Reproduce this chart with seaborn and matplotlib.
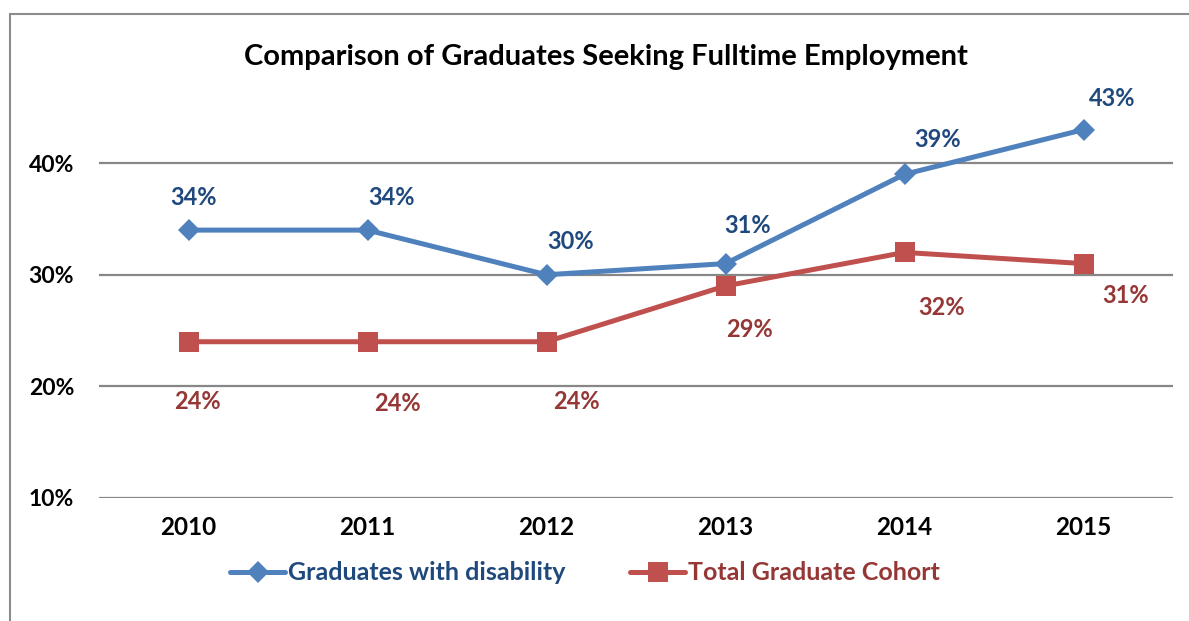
import numpy as np
import pandas as pd
import matplotlib
matplotlib.use("Agg")
import matplotlib.pyplot as plt
import seaborn as sns
from matplotlib.lines import Line2D

# chart values (percent)
years = ["2010", "2011", "2012", "2013", "2014", "2015"]
disability = [34, 34, 30, 31, 39, 43]
total_cohort = [24, 24, 24, 29, 32, 31]
series_names = ["Graduates with disability", "Total Graduate Cohort"]
y_ticks = [10, 20, 30, 40]

# label offsets in pixels (dx, dy) - hand placed like in the original
dis_offsets = [(5, 33), (24, 33), (24, 33), (22, 38), (33, 35), (29, 31)]
tot_offsets = [(9, -60), (30, -62), (30, -60), (24, -44), (37, -55), (42, -32)]

sns.set_style("white")
plt.rcParams["font.family"] = ["Lato", "DejaVu Sans"]
plt.rcParams["font.weight"] = "bold"

blue_line, blue_text = "#4F81BD", "#1F497D"
red_line, red_text = "#C0504D", "#953735"

df = pd.DataFrame({
    "pos": np.tile(np.arange(len(years)), 2),
    "value": disability + total_cohort,
    "series": [series_names[0]] * len(years) + [series_names[1]] * len(years),
})

fig = plt.figure(figsize=(11.89, 6.21), dpi=100)
ax = fig.add_axes([99 / 1189, (621 - 498) / 621, (1173 - 99) / 1189, (498 - 85) / 621])

sns.lineplot(data=df, x="pos", y="value", hue="series", style="series",
             palette=[blue_line, red_line], markers=["D", "s"], dashes=False,
             markersize=11, linewidth=3.6, markeredgewidth=0, ax=ax, legend=False)
# square marker bigger
ax.lines[1].set_markersize(14)

ax.set_xlim(-0.5, len(years) - 0.5)
ax.set_ylim(10, 47)
ax.set_yticks(y_ticks)
ax.set_yticklabels([f"{v}%" for v in y_ticks])
ax.set_xticks(range(len(years)))
ax.set_xticklabels(years)
ax.tick_params(axis="y", labelsize=16.5, pad=18, length=0)
ax.tick_params(axis="x", labelsize=17.5, pad=13, length=0)
for lab in ax.get_xticklabels() + ax.get_yticklabels():
    lab.set_fontweight("bold")
    lab.set_color("black")

ax.grid(False)
for v in y_ticks:
    ax.axhline(v, color="#878787", linewidth=1.6, zorder=0)
for s in ax.spines.values():
    s.set_visible(False)
ax.set_xlabel("")
ax.set_ylabel("")

# data labels
for i, v in enumerate(disability):
    dx, dy = dis_offsets[i]
    ax.annotate(f"{v}%", (i, v), xytext=(dx, dy), textcoords="offset pixels",
                ha="center", va="center", fontsize=17, fontweight="bold", color=blue_text)
for i, v in enumerate(total_cohort):
    dx, dy = tot_offsets[i]
    ax.annotate(f"{v}%", (i, v), xytext=(dx, dy), textcoords="offset pixels",
                ha="center", va="center", fontsize=17, fontweight="bold", color=red_text)

fig.text(606 / 1189, 1 - 57 / 621, "Comparison of Graduates Seeking Fulltime Employment",
         ha="center", va="center", fontsize=21, fontweight="bold", color="black")

handles = [
    Line2D([], [], color=blue_line, lw=3.6, marker="D", markersize=11, markeredgewidth=0),
    Line2D([], [], color=red_line, lw=3.6, marker="s", markersize=14, markeredgewidth=0),
]
fig.legend(handles, series_names, loc="center", bbox_to_anchor=(585 / 1189, 1 - 573 / 621),
           ncol=2, frameon=False, handlelength=2.2, handletextpad=0.1,
           columnspacing=2.6, labelcolor=[blue_text, red_text],
           prop={"weight": "bold", "size": 18})

# chart border (left and top only visible)
fig.add_artist(Line2D([10 / 1189, 10 / 1189], [0, 1 - 14 / 621], color="#8c8c8c", lw=1.5,
                      transform=fig.transFigure))
fig.add_artist(Line2D([10 / 1189, 1], [1 - 14 / 621, 1 - 14 / 621], color="#8c8c8c", lw=1.5,
                      transform=fig.transFigure))

fig.savefig("out.png", dpi=100)
